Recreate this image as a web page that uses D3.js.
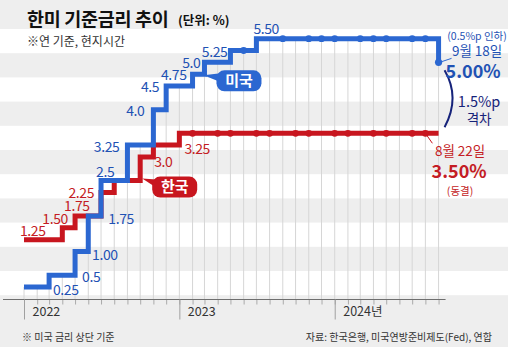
<!DOCTYPE html>
<html><head><meta charset="utf-8">
<script src="https://cdn.jsdelivr.net/npm/d3@7"></script>
<style>
html,body{margin:0;padding:0;background:#eeeeee;}
svg{display:block;font-family:"Noto Sans CJK KR","Noto Sans",sans-serif;}
</style></head><body>
<svg id="c" width="508" height="347"></svg>
<script>
// ---- data ----
const usDates  = ["2022-01","2022-03","2022-05","2022-06","2022-07","2022-09","2022-11","2022-12","2023-02","2023-03","2023-05","2023-07","2024-09"];
const usRates  = [0.25, 0.5, 1.00, 1.75, 2.5, 3.25, 4.0, 4.5, 4.75, 5.0, 5.25, 5.5, 5.0];
const usLabels = ["0.25","0.5","1.00","1.75","2.5","3.25","4.0","4.5","4.75","5.0","5.25","5.50",""];
const krDates  = ["2022-01","2022-04","2022-05","2022-07","2022-08","2022-10","2022-11","2023-01"];
const krRates  = [1.25, 1.50, 1.75, 2.25, 2.5, 3.0, 3.25, 3.5];
const krLabels = ["1.25","1.50","1.75","2.25","","3.0","3.25",""];
const endDate  = "2024-09";
const usHoldDates = ["2023-06","2023-09","2023-11","2023-12","2024-01","2024-03","2024-04","2024-05","2024-07","2024-08"];
const krHoldDates = ["2023-02","2023-04","2023-05","2023-07","2023-08","2023-10","2023-11","2024-01","2024-02","2024-04","2024-05","2024-07","2024-08"];
const yearTickDates = ["2022-01","2023-01","2024-01"];
const yearTickLabels = ["2022","2023","2024년"];

// ---- layout (label offsets relative to step point) ----
const usLabelLayout = [[29,8,"start"],[33,7,"start"],[17,8,"start"],[20,8,"start"],[-5,-4,"start"],[-8,7,"end"],[-9,6,"end"],[-7,6,"end"],[-6,6,"end"],[-4,6,"end"],[-3,6,"end"],[-3,-5,"start"],null];
const krLabelLayout = [[-4,-4,"start"],[-20,-4,"start"],[-11,-5,"start"],[-7,6,"end"],null,[14,10,"start"],[31,9,"start"],null];

const BLUE = "#2b67d1", BLUE_T = "#1f52b4", RED = "#c8161f", RED_T = "#c41c24", NAVY = "#16237a";
const W = 508, H = 347;
const parse = d3.timeParse("%Y-%m");
const svg = d3.select("#c");

const x = d3.scaleTime().domain([new Date(2022,0,1), new Date(2025,0,1)]).range([24, 490.5]);
const y = d3.scaleLinear().domain([0, 5.5]).range([298.8, 38.7]);
const axisY = 299.5;

// background bands
svg.append("rect").attr("width", W).attr("height", H).attr("fill", "#eeeeee");
for (let i = 0; i < 6; i++) {
  svg.append("rect").attr("x", 0).attr("y", 29 + i*48.4).attr("width", W).attr("height", 24.2).attr("fill", "#ffffff");
}

const us = usDates.map((d,i) => ({date: parse(d), v: usRates[i], label: usLabels[i], lay: usLabelLayout[i]}));
const kr = krDates.map((d,i) => ({date: parse(d), v: krRates[i], label: krLabels[i], lay: krLabelLayout[i]}));
const end = parse(endDate);
const krLine = kr.concat([{date: end, v: kr[kr.length-1].v}]);

function usAt(d) {
  let v = us[0].v;
  us.forEach(p => { if (p.date <= d) v = p.v; });
  return v;
}

// monthly gridlines up to the US line
const months = d3.timeMonth.range(parse("2022-01"), d3.timeMonth.offset(end, 1));
svg.append("g").selectAll("line").data(months).join("line")
  .attr("x1", d => x(d)).attr("x2", d => x(d))
  .attr("y1", axisY).attr("y2", d => y(usAt(d)))
  .attr("stroke", "#d6d6d6").attr("stroke-width", 1);

// axis
const ax = svg.append("g").attr("transform", `translate(0,${axisY})`)
  .call(d3.axisBottom(x).tickValues(months).tickSize(5).tickFormat(""));
ax.select(".domain").remove();
ax.selectAll(".tick line").attr("stroke", "#aaaaaa");
svg.append("line").attr("x1", 3).attr("x2", x(end) + 7).attr("y1", axisY).attr("y2", axisY)
  .attr("stroke", "#6f6f6f").attr("stroke-width", 1.2);
const yrs = yearTickDates.map(parse);
const ay = svg.append("g").attr("transform", `translate(0,${axisY})`)
  .call(d3.axisBottom(x).tickValues(yrs).tickSize(20).tickFormat((d,i) => yearTickLabels[i]));
ay.select(".domain").remove();
ay.selectAll(".tick line").attr("stroke", "#a0a0a0");
ay.selectAll(".tick text").attr("text-anchor", "start").attr("x", 8).attr("y", 8).attr("dy", "0.71em")
  .attr("fill", "#333").style("font-size", "12.5px").style("font-family", "'Noto Sans CJK KR',sans-serif");

// lines
const step = d3.line().x(d => x(d.date)).y(d => y(d.v)).curve(d3.curveStepAfter);
svg.append("path").datum(krLine).attr("d", step).attr("fill", "none").attr("stroke", RED)
  .attr("stroke-width", 5).attr("stroke-linejoin", "miter");
svg.append("path").datum(us).attr("d", step).attr("fill", "none").attr("stroke", BLUE)
  .attr("stroke-width", 5).attr("stroke-linejoin", "miter");

// hold dots
const krLast = kr[kr.length-1].v;
svg.append("g").selectAll("circle").data(krHoldDates.map(parse)).join("circle")
  .attr("cx", d => x(d)).attr("cy", y(krLast)).attr("r", 3.4).attr("fill", RED);
svg.append("g").selectAll("circle").data(usHoldDates.map(parse)).join("circle")
  .attr("cx", d => x(d)).attr("cy", d => y(usAt(d))).attr("r", 3.4).attr("fill", BLUE);
svg.append("circle").attr("cx", x(end)).attr("cy", y(us[us.length-1].v)).attr("r", 3.6).attr("fill", BLUE);

// value labels
function labels(data, color) {
  svg.append("g").selectAll("text").data(data.filter(d => d.label && d.lay)).join("text")
    .attr("x", d => x(d.date) + d.lay[0]).attr("y", d => y(d.v) + d.lay[1])
    .attr("text-anchor", d => d.lay[2]).attr("fill", color)
    .style("font-size", "14px").style("letter-spacing", "-0.4px")
    .text(d => d.label);
}
labels(kr, RED_T);
labels(us, BLUE_T);

// bubbles
function bubble(tipX, tipY, rx, ry, w, h, color, txt) {
  const g = svg.append("g");
  g.append("path").attr("d", `M${tipX},${tipY} L${rx+4},${ry+3} L${rx+7},${ry+13} Z`).attr("fill", color);
  g.append("rect").attr("x", rx).attr("y", ry).attr("width", w).attr("height", h).attr("rx", 8).attr("fill", color);
  g.append("text").attr("x", rx + w/2).attr("y", ry + h/2 + 5).attr("text-anchor", "middle")
    .attr("fill", "#fff").style("font-size", "15px").style("font-weight", "bold").text(txt);
}
{
  const tx = x(parse("2023-03")) - 1, ty = y(5.0) + 13;
  bubble(tx, ty, tx + 13, ty - 5, 45, 21, BLUE, "미국");
  const kx = x(parse("2022-10")) + 2, ky = y(2.5) - 2;
  bubble(kx, ky, kx + 10, ky - 2, 45, 21, RED, "한국");
}

// right annotations
const ex = x(end), yU = y(us[us.length-1].v), yK = y(krLast);
svg.append("line").attr("x1", ex + 1).attr("y1", yU).attr("x2", ex + 13).attr("y2", yU - 4).attr("stroke", BLUE).attr("stroke-width", 1);
svg.append("line").attr("x1", x(parse("2024-08"))).attr("y1", yK).attr("x2", x(parse("2024-08")) + 7).attr("y2", yK + 10).attr("stroke", RED).attr("stroke-width", 1);
svg.append("path").attr("d", `M${ex+6},${yU+8} Q${ex+22},${(yU+yK)/2} ${ex+6},${yK-6}`)
  .attr("fill", "none").attr("stroke", NAVY).attr("stroke-width", 2);

function t(xp, yp, txt, size, color, weight, anchor, ls) {
  svg.append("text").attr("x", xp).attr("y", yp).attr("text-anchor", anchor || "middle").attr("fill", color)
    .style("font-size", size + "px").style("font-weight", weight || "normal")
    .style("letter-spacing", (ls || 0) + "px").text(txt);
}
t(ex + 38.5, 40, "(0.5%p 인하)", 10.5, BLUE_T);
t(ex + 38.5, 56, "9월 18일", 13.5, BLUE_T);
t(ex + 34.5, 77.5, "5.00%", 18, BLUE_T, "bold");
t(ex + 40.5, 107, "1.5%p", 14.5, NAVY);
t(ex + 40.5, 123.5, "격차", 13.5, NAVY);
t(ex + 21.5, 156, "8월 22일", 13.5, RED_T);
t(ex + 20.5, 178, "3.50%", 18, RED_T, "bold");
t(ex + 21.5, 195, "(동결)", 10.5, RED_T);

// titles
t(27, 25.5, "한미 기준금리 추이", 18.5, "#111", "bold", "start", -0.3);
t(178, 24.5, "(단위: %)", 12.5, "#111", "bold", "start");
t(27, 46, "※연 기준, 현지시간", 12, "#333", "normal", "start");
t(22, 341, "※ 미국 금리 상단 기준", 10, "#333", "normal", "start");
t(492, 341, "자료: 한국은행, 미국연방준비제도(Fed), 연합", 10, "#333", "normal", "end");
</script>
</body></html>
